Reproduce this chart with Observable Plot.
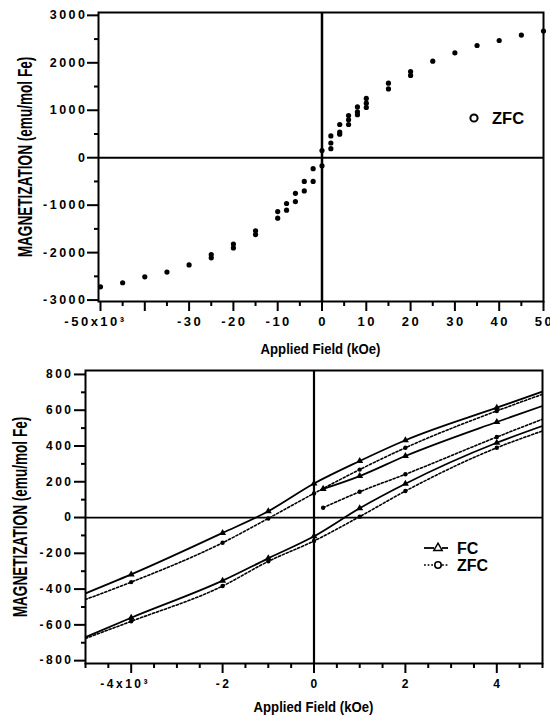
<!DOCTYPE html>
<html><head><meta charset="utf-8">
<script src="https://cdn.jsdelivr.net/npm/d3@7"></script>
<script src="https://cdn.jsdelivr.net/npm/@observablehq/plot@0.6"></script>
<style>
body{margin:0;background:#fff;}
#wrap{position:relative;width:550px;height:717px;overflow:hidden;}
#wrap svg{display:block}
#legend{position:absolute;left:0;top:0;pointer-events:none}
</style></head><body><div id="wrap"></div>
<script>
const FONT = "Liberation Sans, Arial, Helvetica, sans-serif";

// ---------- Top panel data (ZFC, wide field range) ----------
const topField = [
  -50,-45,-40,-35,-30,-25,-25,-20,-20,-15,-15,-10,-10,-8,-8,-6,-6,-4,-4,-2,-2,
  0,0,
  2,2,2,4,4,4,6,6,6,8,8,8,10,10,10,15,15,20,20,25,30,35,40,45,50
];
const topM = [
  -2720,-2635,-2510,-2410,-2260,-2040,-2110,-1820,-1900,-1540,-1620,-1135,-1275,-965,-1105,-750,-925,-500,-700,-230,-500,
  150,-170,
  460,310,190,700,540,495,890,800,700,1070,965,905,1250,1150,1060,1570,1450,1815,1735,2035,2210,2365,2470,2585,2670
];
const topXMajor = [-50,-40,-30,-20,-10,0,10,20,30,40,50];
const topXMinor = [-45,-35,-25,-15,-5,5,15,25,35,45];
const topXLabelVals = [-30,-20,-10,0,10,20,30,40,50];
const topXLabels = ["-30","-20","-10","0","10","20","30","40","50"];
const topXFirstVal = [-50];
const topXFirstLabel = ["-50x10³"];
const topYMajor = [-3000,-2000,-1000,0,1000,2000,3000];
const topYLabels = ["-3000","-2000","-1000","0","1000","2000","3000"];
const topYMinor = [-2500,-1500,-500,500,1500,2500];

// ---------- Bottom panel data (FC / ZFC loops) ----------
const descH = [5, 4, 2, 1, 0, -1, -2, -4, -5];
const fcDescM = [704, 614, 432, 316, 190, 35, -86, -318, -424];
const zfcDescM = [689, 596, 390, 268, 135, -5, -141, -361, -458];
const ascH = [-5, -4, -2, -1, 0, 1, 2, 4, 5];
const fcAscM = [-669, -560, -353, -228, -105, 52, 189, 418, 512];
const zfcAscM = [-676, -580, -383, -245, -131, 5, 148, 390, 484];
const initH = [0.2, 1, 2, 4, 5];
const fcInitM = [160, 232, 344, 534, 624];
const zfcInitM = [55, 144, 242, 450, 550];

const botXMajor = [-4,-2,0,2,4];
const botXMinor = [-5,-4.5,-3.5,-3,-2.5,-1.5,-1,-0.5,0.5,1,1.5,2.5,3,3.5,4.5,5];
const botXLabelVals = [-2,0,2,4];
const botXLabels = ["-2","0","2","4"];
const botXFirstVal = [-4];
const botXFirstLabel = ["-4x10³"];
const botYMajor = [-800,-600,-400,-200,0,200,400,600,800];
const botYLabels = ["-800","-600","-400","-200","0","200","400","600","800"];
const botYMinor = [-700,-500,-300,-100,100,300,500,700];

const yTitle = "MAGNETIZATION (emu/mol Fe)";
const xTitle = "Applied Field (kOe)";

const topData = topField.map((h, i) => ({h, m: topM[i]}));

function branch(hs, ms, series, name) {
  return hs.map((h, i) => ({h, m: ms[i], series, branch: name, end: i === 0 || i === hs.length - 1}));
}
const loopData = [
  ...branch(descH, fcDescM, "FC", "fc-desc"),
  ...branch(ascH, fcAscM, "FC", "fc-asc"),
  ...branch(initH, fcInitM, "FC", "fc-init"),
  ...branch(descH, zfcDescM, "ZFC", "zfc-desc"),
  ...branch(ascH, zfcAscM, "ZFC", "zfc-asc"),
  ...branch(initH, zfcInitM, "ZFC", "zfc-init")
];
const fcData = loopData.filter(d => d.series === "FC");
const zfcData = loopData.filter(d => d.series === "ZFC");
const markerFilter = d => !(d.end && Math.abs(d.h) >= 5);

const blank = () => "";

const topPlot = Plot.plot({
  width: 550, height: 365,
  marginLeft: 98, marginRight: 7, marginTop: 12, marginBottom: 64,
  x: {domain: [-50.45, 50]},
  y: {domain: [-3030, 3060]},
  style: {fontFamily: FONT, background: "white", color: "black"},
  marks: [
    Plot.frame({stroke: "black", strokeWidth: 2}),
    Plot.ruleX([0], {stroke: "black", strokeWidth: 2.5}),
    Plot.ruleY([0], {stroke: "black", strokeWidth: 2}),
    Plot.axisX({ticks: topXMajor, tickSize: 10, strokeWidth: 2, tickFormat: blank, label: null}),
    Plot.axisX({ticks: topXMinor, tickSize: 5, strokeWidth: 2, tickFormat: blank, label: null}),
    Plot.axisY({ticks: topYMajor, tickSize: 11, strokeWidth: 2, tickFormat: blank, label: null}),
    Plot.axisY({ticks: topYMinor, tickSize: 4, strokeWidth: 2, tickFormat: blank, label: null}),
    Plot.text(topXLabelVals, {x: d => d, text: (d, i) => topXLabels[i], frameAnchor: "bottom", dy: 24, dx: 1,
      fontSize: 13, fontWeight: "bold", fill: "black", ariaDescription: "ticklab"}),
    Plot.text(topXFirstVal, {x: d => d, text: (d, i) => topXFirstLabel[i], frameAnchor: "bottom", dy: 24, dx: -5,
      fontSize: 13, fontWeight: "bold", fill: "black", ariaDescription: "ticklab"}),
    Plot.text(topYMajor, {y: d => d, text: (d, i) => topYLabels[i], frameAnchor: "left", textAnchor: "end", dx: -11,
      fontSize: 12.5, fontWeight: "bold", fill: "black", ariaDescription: "ticklab"}),
    Plot.dot(topData, {x: "h", y: "m", r: 2.6, fill: "black", stroke: "none"})
  ]
});

const botPlot = Plot.plot({
  width: 550, height: 352,
  marginLeft: 85, marginRight: 8, marginTop: 5, marginBottom: 54,
  x: {domain: [-5, 5]},
  y: {domain: [-816, 822]},
  style: {fontFamily: FONT, background: "white", color: "black"},
  marks: [
    Plot.frame({stroke: "black", strokeWidth: 2}),
    Plot.ruleX([0], {stroke: "black", strokeWidth: 2.2}),
    Plot.ruleY([0], {stroke: "black", strokeWidth: 1.8}),
    Plot.axisX({ticks: botXMajor, tickSize: 10, strokeWidth: 2, tickFormat: blank, label: null}),
    Plot.axisX({ticks: botXMinor, tickSize: 5, strokeWidth: 2, tickFormat: blank, label: null}),
    Plot.axisY({ticks: botYMajor, tickSize: 11, strokeWidth: 2, tickFormat: blank, label: null}),
    Plot.axisY({ticks: botYMinor, tickSize: 4, strokeWidth: 2, tickFormat: blank, label: null}),
    Plot.text(botXLabelVals, {x: d => d, text: (d, i) => botXLabels[i], frameAnchor: "bottom", dy: 24, dx: 1,
      fontSize: 12, fontWeight: "bold", fill: "black", ariaDescription: "ticklab"}),
    Plot.text(botXFirstVal, {x: d => d, text: (d, i) => botXFirstLabel[i], frameAnchor: "bottom", dy: 24, dx: -6,
      fontSize: 12, fontWeight: "bold", fill: "black", ariaDescription: "ticklab"}),
    Plot.text(botYMajor, {y: d => d, text: (d, i) => botYLabels[i], frameAnchor: "left", textAnchor: "end", dx: -12,
      fontSize: 12, fontWeight: "bold", fill: "black", ariaDescription: "ticklab"}),
    Plot.line(fcData, {x: "h", y: "m", z: "branch", stroke: "black", strokeWidth: 1.8, curve: "monotone-x", clip: true}),
    Plot.line(zfcData, {x: "h", y: "m", z: "branch", stroke: "black", strokeWidth: 1.6, strokeDasharray: "2.2,2", curve: "monotone-x", clip: true}),
    Plot.dot(fcData.filter(markerFilter), {x: "h", y: "m", symbol: "triangle", r: 2.6, fill: "black", stroke: "none"}),
    Plot.dot(zfcData.filter(markerFilter), {x: "h", y: "m", symbol: "circle", r: 2.2, fill: "black", stroke: "none"})
  ]
});

const wrap = document.getElementById("wrap");
wrap.appendChild(topPlot);
wrap.appendChild(botPlot);

for (const p of [topPlot, botPlot]) {
  d3.select(p).selectAll('g[aria-description="ticklab"] text').attr("letter-spacing", "2.5px");
}

// Overlay: axis titles and legends
const ov = d3.select(wrap).append("svg").attr("id", "legend").attr("width", 550).attr("height", 717)
  .attr("font-family", FONT).attr("font-weight", "bold");

// y titles (condensed bold, rotated)
[[24.5, 157], [20, 517]].forEach(([cx, cy]) => {
  ov.append("text").attr("transform", `translate(${cx},${cy}) rotate(-90) scale(0.68,1)`)
    .attr("text-anchor", "middle").attr("dy", "0.36em").attr("font-size", 20).text(yTitle);
});
// x titles
[[320.5, 354], [313.5, 712]].forEach(([cx, by]) => {
  ov.append("text").attr("transform", `translate(${cx},${by}) scale(0.94,1)`)
    .attr("text-anchor", "middle").attr("font-size", 14).text(xTitle);
});

// top legend
ov.append("circle").attr("cx", 474).attr("cy", 118).attr("r", 3.6).attr("fill", "white").attr("stroke", "black").attr("stroke-width", 2);
ov.append("text").attr("x", 492).attr("y", 124).attr("font-size", 16.5).text("ZFC");
// bottom legend: FC
ov.append("line").attr("x1", 424).attr("x2", 434).attr("y1", 548).attr("y2", 548).attr("stroke", "black").attr("stroke-width", 1.8);
ov.append("line").attr("x1", 442).attr("x2", 448).attr("y1", 548).attr("y2", 548).attr("stroke", "black").attr("stroke-width", 1.8);
ov.append("path").attr("d", d3.symbol(d3.symbolTriangle, 30)()).attr("transform", "translate(438,548)").attr("fill", "white").attr("stroke", "black").attr("stroke-width", 1.5);
ov.append("text").attr("x", 457).attr("y", 554).attr("font-size", 16).text("FC");
// bottom legend: ZFC
ov.append("line").attr("x1", 424).attr("x2", 434).attr("y1", 565).attr("y2", 565).attr("stroke", "black").attr("stroke-width", 1.6).attr("stroke-dasharray", "1.8,1.8");
ov.append("line").attr("x1", 442).attr("x2", 448).attr("y1", 565).attr("y2", 565).attr("stroke", "black").attr("stroke-width", 1.6).attr("stroke-dasharray", "1.8,1.8");
ov.append("circle").attr("cx", 438).attr("cy", 565).attr("r", 3.2).attr("fill", "white").attr("stroke", "black").attr("stroke-width", 1.6);
ov.append("text").attr("x", 457).attr("y", 571).attr("font-size", 16).text("ZFC");
</script></body></html>
